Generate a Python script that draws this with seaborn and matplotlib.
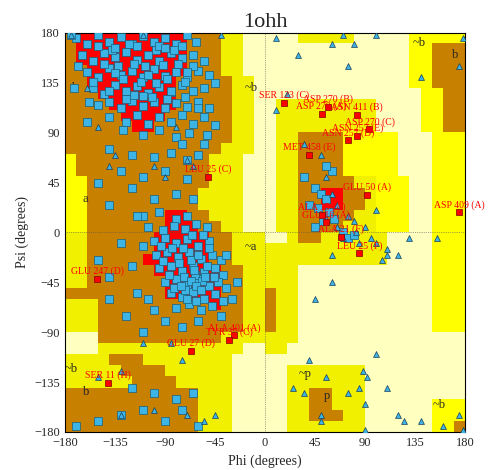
import numpy as np
import pandas as pd
import matplotlib
matplotlib.use("Agg")
import matplotlib.pyplot as plt
import seaborn as sns
from matplotlib.colors import ListedColormap

# region map, 10-degree cells, rows from psi=180 down, cols from phi=-180 (run-length coded)
region_rows = [
    "B1 R10 B3 D2 W2 | W3 D5 W5 Y5",
    "B1 R10 B3 D2 W2 | W13 Y2 B3",
    "B1 R10 B3 D2 W2 | W13 Y2 B3",
    "B2 R9 B3 D2 W2 | W13 Y2 B3",
    "B2 R8 B5 D2 W1 | W13 Y2 B3",
    "B3 R7 B5 D2 W1 | W14 Y2 B2",
    "B4 R6 B5 D2 W1 | W1 D9 W4 Y2 B2",
    "B5 R4 B6 D2 W1 | W1 D9 W4 Y2 B2",
    "B6 R2 B7 D2 W1 | W1 D9 W4 Y2 B2",
    "B15 D2 W1 | W1 D2 B4 Y5 W3 Y3",
    "B14 D3 W1 | W1 D2 B4 Y5 W3 Y3",
    "Y1 B12 D3 W2 | W1 D2 B4 Y5 W3 Y3",
    "Y1 B12 D3 W2 | W1 D2 B4 Y5 W3 Y3",
    "Y2 B11 D3 W2 | W1 D2 B5 D2 Y3 W2 Y3",
    "Y2 B10 D4 W2 | W1 D2 B2 R2 B2 D1 Y3 W2 Y3",
    "Y2 B10 D4 W2 | W1 D2 B2 R2 B2 D1 Y3 W2 Y3",
    "Y2 B7 R2 B2 D3 W2 | W1 D2 B5 D2 Y3 W2 Y3",
    "Y2 B7 R3 B2 D2 W2 | W1 D2 B4 D3 Y3 W2 Y3",
    "D2 B6 R5 B2 D3 | W2 D1 B2 D6 W4 Y3",
    "D2 B6 R5 B2 D3 | D11 W4 Y3",
    "D2 B5 R6 B2 D3 | D11 W4 Y3",
    "D2 B6 R6 B2 D2 | D3 W12 Y3",
    "D2 B7 R5 B2 D2 | D3 W12 Y3",
    "B9 R5 B2 D2 | B1 D2 W12 Y3",
    "D3 B10 R1 B2 D2 | B1 D2 W12 Y3",
    "D3 B13 D2 | B1 D2 W12 Y3",
    "D3 B13 D2 | B1 D2 W12 Y3",
    "W3 B11 D4 | D3 W15",
    "W3 D13 W2 | D2 W16",
    "D4 B3 D8 W3 | W18",
    "D5 B4 D6 W3 | W2 D7 W9",
    "D6 B4 D5 W3 | W2 D7 W9",
    "B12 D3 W3 | W2 D2 B2 D3 W9",
    "B12 D3 W3 | W2 D2 B2 D3 W6 Y3",
    "B12 D3 W3 | W2 D2 B3 D2 W6 Y3",
    "B12 D3 W3 | W2 D7 W6 Y2 B1",
]
region_codes = "WYDBR"
region_colors = ["#FFFFC0", "#FFFF00", "#F0F000", "#C88000", "#FF0000"]

# residues (phi, psi)
beta_phi = [-170,-160,-150,-140,-130,-120,-110,-100,-90,-80,-70,-62,
            -165,-155,-145,-135,-125,-115,-105,-95,-85,-75,-65,-55,
            -160,-150,-140,-130,-120,-110,-100,-90,-80,-70,-60,-50,
            -155,-145,-135,-125,-115,-105,-95,-85,-75,-65,-55,-45,
            -150,-140,-130,-120,-110,-100,-90,-80,-70,-60,-50,
            -140,-125,-115,-105,-95,-85,-75,-65,-55,-45,
            -128,-110,-95,-80,-68,-52,
            -145,-132,-118,-108,-92,-78,-128,-112,-98,-88,-72,-122,-98,-138,-82,
            -118,-102,-88,-72,-158,-168,-175,-172,
            -150,-135,-115,-95,-75,-140,-125,-105,-85,-65,-155,-135,-110,-90,-70,-60]
beta_psi = [175,170,178,172,176,170,177,172,175,170,178,172,
            160,155,162,158,163,156,160,155,162,157,160,155,
            145,140,148,142,146,140,147,141,145,140,146,142,
            130,125,133,128,132,126,131,127,133,128,130,135,
            115,118,112,119,114,118,112,117,113,118,112,
            104,100,106,98,104,100,106,98,104,97,
            92,88,92,86,90,88,
            152,150,152,150,151,152,138,136,135,138,136,170,165,165,165,
            124,122,120,122,118,150,178,130,
            168,166,168,168,168,128,120,142,128,150,136,144,123,166,145,112]
loose_phi = [-140,-120,-100,-85,-70,-130,-110,-90,-70,-60,-120,-100,-80,-65,-150,-140,-115,-55,-75,-160,
             -120,-130,-140,-115,-100,-90,-75,-60,-40,-30,-150,-125,-110,-35,-25,-105,-140,
             -170,-150,-130,-110,-90,-75,-60,-100,-80,-65,-120,
             45,50,55,40,48,58,52,62,45,70,75,60,35,55,80]
loose_psi = [75,70,68,72,65,55,50,55,48,70,40,30,35,30,45,25,15,80,80,100,
             -30,-10,-40,-55,-70,-80,-85,-80,-75,-60,-25,-75,-90,-20,-45,-60,-60,
             -175,-170,-165,-160,-170,-160,-175,-145,-150,-145,-140,
             40,35,30,25,22,18,10,12,5,0,-5,55,50,60,-2]
alpha_phi = [-110,-95,-80,-70,-105,-92,-82,-72,-62,-52,
             -100,-90,-80,-70,-60,-50,-110,
             -98,-88,-78,-68,-58,-48,-40,
             -95,-85,-75,-65,-55,-45,-38,
             -90,-80,-70,-60,-50,-42,-35,
             -85,-75,-65,-55,-45,-38,
             -80,-68,-58,-48,
             -73,-63,-67,-57,-77,-67,-62,-72,-52,-60,-64,-54,-86,-46,
             -94,-84,-74,-66,-56,-82,-70,-58,-92,-76,-50,-62]
alpha_psi = [15,18,12,15,5,2,6,3,8,5,
             -8,-5,-10,-6,-12,-8,-12,
             -20,-18,-22,-18,-24,-20,-25,
             -32,-30,-35,-30,-36,-32,-38,
             -45,-42,-47,-42,-48,-45,-50,
             -55,-58,-54,-60,-56,-62,
             -68,-65,-70,-66,
             -40,-38,-44,-44,-28,-25,-48,-52,-30,-20,-34,-40,-38,-40,
             -12,-14,-14,-2,-2,-50,-60,-52,-26,-48,-14,-62]
gly_phi = [-175,-110,-40,-160,-150,-140,-135,-100,-90,-70,-65,-80,-110,-85,-75,-130,-150,-100,-130,-70,-55,-45,
           10,30,60,70,80,100,75,20,10,140,175,178,35,50,55,60,65,75,80,90,95,100,85,70,60,110,130,120,155,
           60,45,40,55,25,35,75,85,90,50,50,120,125,140,160,175,178,90,100,110,88,92,65,82,100,110,105]
gly_psi = [178,178,178,130,95,60,70,60,50,65,60,95,-100,-100,-115,-125,-130,-160,-165,-165,-170,-165,
           175,160,170,178,170,178,150,125,110,140,150,175,80,70,50,35,25,15,10,5,-5,-10,-10,-5,-20,-15,-5,-20,-5,
           -45,-60,-115,-130,-140,-145,-145,-140,-155,-165,-170,-165,-170,-170,-175,-165,-178,-178,-110,-140,-125,-130,5,0,20,-20,-25]

# labelled outliers
out_names = ["SER 123 (C)", "ASP 270 (B)", "ASP 270 (A)", "ASN 411 (B)", "ASP 270 (C)", "ASN 257 (E)",
             "ASN 257 (D)", "MET 458 (E)", "GLU 50 (A)", "ASP 409 (A)", "ALA 15 (A)", "GLU 16 (A)",
             "ALA 21 (F)", "LEU 25 (F)", "LEU 25 (C)", "GLU 247 (D)", "ALA 401 (A)", "TYR 37 (C)",
             "GLU 27 (D)", "SER 11 (H)"]
out_phi = [17, 57, 51, 83, 94, 83, 75, 40, 92, 175, 51, 55, 68, 85, -51, -151, -28, -32, -67, -141]
out_psi = [117, 113, 107, 106, 93, 87, 83, 70, 34, 18, 16, 9, -4, -19, 50, -42, -93, -97, -107, -136]

region_text = ["b", "a", "~b", "~a", "~b", "b", "~p", "p", "~b", "b", "~b"]
region_tphi = [-171, -162, -12, -13, -174, -161, 36, 56, 139, 171, 157]
region_tpsi = [130, 30, 130, -13, -123, -144, -128, -148, 171, 160, -156]

# decode map
grid = []
for row in region_rows:
    cells = []
    for tok in row.replace("|", " ").split():
        cells += [region_codes.index(tok[0])] * int(tok[1:])
    grid.append(cells)
grid = np.array(grid)

sns.set_style("white")
serif = ["Liberation Serif", "DejaVu Serif"]
plt.rcParams["font.family"] = serif

fig = plt.figure(figsize=(5, 4.7), dpi=100)
ax = fig.add_axes([0.13, 0.081, 0.80, 0.849])
ax.imshow(grid, cmap=ListedColormap(region_colors), vmin=0, vmax=4,
          extent=[-180, 180, -180, 180], interpolation="nearest", aspect="auto")
ax.axhline(0, color="#555555", lw=0.5, ls=":")
ax.axvline(0, color="#555555", lw=0.5, ls=":")

sq = pd.DataFrame({"phi": beta_phi + alpha_phi + loose_phi, "psi": beta_psi + alpha_psi + loose_psi})
gl = pd.DataFrame({"phi": gly_phi, "psi": gly_psi})
ou = pd.DataFrame({"phi": out_phi, "psi": out_psi, "name": out_names})
sns.scatterplot(data=sq, x="phi", y="psi", marker="s", s=26, color="#3CB4E6",
                edgecolor="#1B5E7A", linewidth=0.5, ax=ax, zorder=3)
sns.scatterplot(data=gl, x="phi", y="psi", marker="^", s=18, color="#3CB4E6",
                edgecolor="#1B3E5A", linewidth=0.5, ax=ax, zorder=3)
sns.scatterplot(data=ou, x="phi", y="psi", marker="s", s=20, color="#FF0000",
                edgecolor="#800000", linewidth=0.5, ax=ax, zorder=4)
for _, r in ou.iterrows():
    ax.annotate(r["name"], (r["phi"], r["psi"]), xytext=(0, 2), textcoords="offset points",
                ha="center", va="bottom", fontsize=7, color="red", zorder=5)
for t, x, y in zip(region_text, region_tphi, region_tpsi):
    ax.text(x, y, t, fontsize=9, ha="center", va="center", zorder=2)

ticks = [-180, -135, -90, -45, 0, 45, 90, 135, 180]
ax.set_xlim(-180, 180)
ax.set_ylim(-180, 180)
ax.set_xticks(ticks)
ax.set_yticks(ticks)
ax.tick_params(direction="in", length=4, labelsize=9)
ax.set_xlabel("Phi (degrees)", fontsize=10)
ax.set_ylabel("Psi (degrees)", fontsize=10)
ax.set_title("1ohh", fontsize=16, pad=4)
for s in ax.spines.values():
    s.set_color("black")
fig.savefig("out.png")
